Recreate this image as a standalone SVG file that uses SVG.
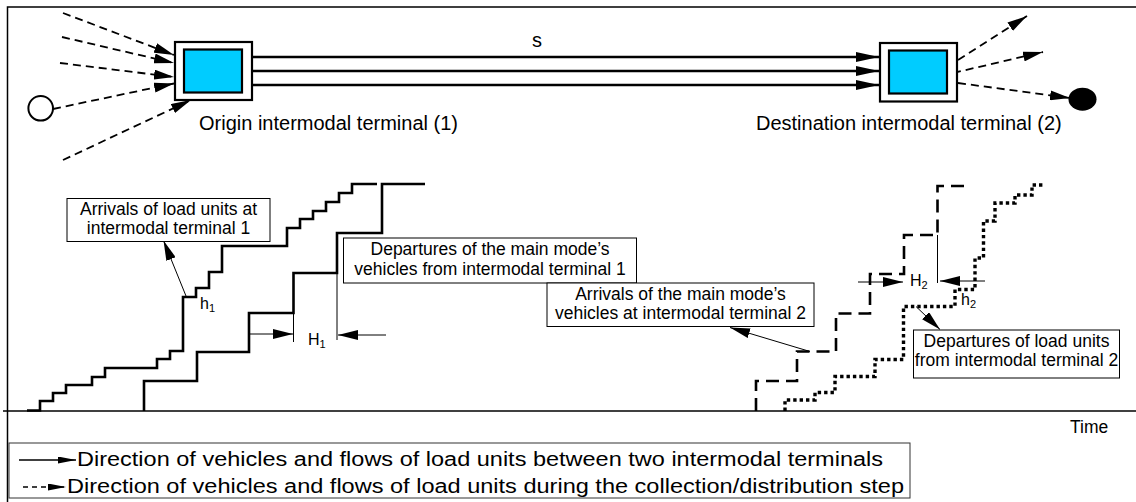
<svg xmlns="http://www.w3.org/2000/svg" width="1136" height="502" viewBox="0 0 1136 502">
  <style>
    .t { font-family: "Liberation Sans", Arial, Helvetica, sans-serif; fill: #000; }
    .big { font-size: 20px; }
    .lab { font-size: 17.5px; }
    .mid { text-anchor: middle; }
    .frame { stroke: #000; stroke-width: 1.5; fill: none; }
    .thick { stroke: #000; stroke-width: 2.6; fill: none; }
    .thin { stroke: #000; stroke-width: 1; fill: none; }
    .dash { stroke: #000; stroke-width: 1.8; fill: none; stroke-dasharray: 8 5; }
    .stairdash { stroke: #000; stroke-width: 2.6; fill: none; stroke-dasharray: 13 7; }
    .stairdot { stroke: #000; stroke-width: 3.4; fill: none; stroke-dasharray: 3.4 3; }
    .box { fill: #fff; stroke: #000; stroke-width: 1; }
    .outer { fill: #fff; stroke: #000; stroke-width: 2.2; }
    .inner { fill: #00CCFF; stroke: #000; stroke-width: 2.2; }
  </style>
  <defs>
    <marker id="ah" markerUnits="userSpaceOnUse" markerWidth="20" markerHeight="10" refX="20" refY="5" orient="auto">
      <path d="M0,0 L20,5 L0,10 Z" fill="#000"/>
    </marker>
    <marker id="ahs" markerUnits="userSpaceOnUse" markerWidth="23" markerHeight="10" refX="23" refY="5" orient="auto">
      <path d="M0,0 L23,5 L0,10 Z" fill="#000"/>
    </marker>
    <marker id="ahc" markerUnits="userSpaceOnUse" markerWidth="20" markerHeight="10" refX="20" refY="5" orient="auto">
      <path d="M0,0 L20,5 L0,10 Z" fill="#000"/>
    </marker>
    <marker id="ahl" markerUnits="userSpaceOnUse" markerWidth="18" markerHeight="7" refX="18" refY="3.5" orient="auto">
      <path d="M0,0 L18,3.5 L0,7 Z" fill="#000"/>
    </marker>
  </defs>

  <rect x="0" y="0" width="1136" height="502" fill="#fff"/>

  <!-- frame and time axis -->
  <g id="frame">
    <path class="frame" d="M7.5,502 V7 H1136"/>
    <path class="frame" d="M3,411 H1136"/>
    <text class="t lab" x="1070" y="433">Time</text>
  </g>

  <!-- connectors -->
  <g id="connectors">
    <!-- collection (dashed) towards origin terminal -->
    <line class="dash" x1="63" y1="13" x2="174" y2="55" marker-end="url(#ah)"/>
    <line class="dash" x1="62" y1="37" x2="174" y2="63" marker-end="url(#ah)"/>
    <line class="dash" x1="60" y1="63" x2="174" y2="77" marker-end="url(#ah)"/>
    <line class="dash" x1="53" y1="109" x2="174" y2="83.5" marker-end="url(#ah)"/>
    <line class="dash" x1="63" y1="160" x2="191" y2="100" marker-end="url(#ah)"/>
    <!-- main mode (solid) -->
    <line class="thick" x1="252" y1="57" x2="879" y2="57" marker-end="url(#ahs)"/>
    <line class="thick" x1="252" y1="71" x2="879" y2="71" marker-end="url(#ahs)"/>
    <line class="thick" x1="252" y1="85" x2="879" y2="85" marker-end="url(#ahs)"/>
    <!-- distribution (dashed) from destination terminal -->
    <line class="dash" x1="958" y1="60" x2="1027" y2="16" marker-end="url(#ah)"/>
    <line class="dash" x1="953" y1="73" x2="1043" y2="52" marker-end="url(#ah)"/>
    <line class="dash" x1="958" y1="83" x2="1070" y2="98" marker-end="url(#ah)"/>

    <!-- callout arrows -->
    <line class="thin" x1="186" y1="296" x2="163.5" y2="240.5" marker-end="url(#ahc)"/>
    <line class="thin" x1="810" y1="351.5" x2="730" y2="327.5" marker-end="url(#ahc)"/>
    <line class="thin" x1="916" y1="306.5" x2="940" y2="329.5" marker-end="url(#ahc)"/>

    <!-- H1 dimension -->
    <line class="thin" x1="293.5" y1="313" x2="293.5" y2="342"/>
    <line class="thin" x1="337" y1="273" x2="337" y2="340"/>
    <line class="thin" x1="250" y1="334" x2="293" y2="334" marker-end="url(#ahc)"/>
    <line class="thin" x1="386" y1="335" x2="338" y2="335" marker-end="url(#ahc)"/>

    <!-- H2 dimension -->
    <line class="thin" x1="937.5" y1="235" x2="937.5" y2="283"/>
    <line class="thin" x1="858" y1="282" x2="903" y2="282" marker-end="url(#ahc)"/>
    <line class="thin" x1="985" y1="281" x2="940" y2="281" marker-end="url(#ahc)"/>
  </g>

  <!-- nodes -->
  <g id="source-circle">
    <circle cx="40.7" cy="108.3" r="12.3" fill="#fff" stroke="#000" stroke-width="2"/>
  </g>
  <g id="sink-dot">
    <ellipse cx="1082.5" cy="99.2" rx="14" ry="11.5" fill="#000"/>
  </g>
  <g id="origin-terminal">
    <rect class="outer" x="175" y="42" width="77" height="58"/>
    <rect class="inner" x="184" y="49.5" width="58" height="43"/>
    <text class="t big" x="199" y="130">Origin intermodal terminal (1)</text>
  </g>
  <g id="destination-terminal">
    <rect class="outer" x="880" y="43" width="77" height="58.5"/>
    <rect class="inner" x="889" y="50.5" width="58" height="43"/>
    <text class="t big" x="756" y="129.5">Destination intermodal terminal (2)</text>
  </g>
  <g id="label-s">
    <text class="t big mid" x="537" y="47">s</text>
  </g>

  <!-- cumulative curves -->
  <g id="arrivals-terminal-1">
    <path class="thick" d="M27,410.5 H40 V401 H53 V393 H66 V385 H92 V377 H105 V368 H157 V359 H170 V351 H183 V297 H196 V288 H209 V272 H222 V246 H287 V228 H300 V219 H313 V211 H326 V202 H339 V193 H352 V184 H377"/>
    <text class="t" x="200" y="309" style="font-size:16px">h<tspan dy="3" style="font-size:11px">1</tspan></text>
  </g>
  <g id="departures-terminal-1">
    <path class="thick" d="M144,411 V381 H197 V352 H249 V313 H293.5 V273 H337 V233 H382 V184 H425"/>
    <text class="t" x="308" y="345" style="font-size:16px">H<tspan dy="3" style="font-size:11px">1</tspan></text>
  </g>
  <g id="arrivals-terminal-2">
    <path class="stairdash" d="M756,411 V381 H797 V351.5 H836 V313.5 H870 V274 H904 V235 H937.5 V186 H964"/>
    <text class="t" x="910" y="286" style="font-size:16px">H<tspan dy="3" style="font-size:11px">2</tspan></text>
  </g>
  <g id="departures-terminal-2">
    <path class="stairdot" d="M785,411 V400 H815 V392.5 H835 V376.5 H875 V359.5 H903.5 V306.5 H955 V289.5 H975 V258 H983.5 V221 H995 V203 H1015 V195 H1032 V185 H1044"/>
    <text class="t" x="961" y="305" style="font-size:16px">h<tspan dy="3" style="font-size:11px">2</tspan></text>
  </g>

  <!-- callout boxes -->
  <g id="callout-arrivals-1">
    <rect class="box" x="67" y="198.5" width="203" height="43"/>
    <text class="t lab mid" x="168.5" y="214.5">Arrivals of load units at</text>
    <text class="t lab mid" x="168.5" y="233.5">intermodal terminal 1</text>
  </g>
  <g id="callout-departures-1">
    <rect class="box" x="343.5" y="238" width="293" height="45"/>
    <text class="t lab mid" x="490" y="255">Departures of the main mode’s</text>
    <text class="t lab mid" x="490" y="274.5">vehicles from intermodal terminal 1</text>
  </g>
  <g id="callout-arrivals-2">
    <rect class="box" x="547" y="283" width="267" height="43.5"/>
    <text class="t lab mid" x="680.5" y="299.5">Arrivals of the main mode’s</text>
    <text class="t lab mid" x="680.5" y="319">vehicles at intermodal terminal 2</text>
  </g>
  <g id="callout-departures-2">
    <rect class="box" x="913.5" y="330" width="206" height="48"/>
    <text class="t lab mid" x="1016.5" y="347">Departures of load units</text>
    <text class="t lab mid" x="1016.5" y="366">from intermodal terminal 2</text>
  </g>

  <!-- legend -->
  <g id="legend">
    <rect x="9" y="443" width="901" height="55" fill="#fff" stroke="#333" stroke-width="1"/>
    <line x1="19" y1="460" x2="76" y2="460" stroke="#000" stroke-width="1.5" marker-end="url(#ahl)"/>
    <text class="t" x="77" y="466" style="font-size:20px" textLength="806" lengthAdjust="spacingAndGlyphs">Direction of vehicles and flows of load units between two intermodal terminals</text>
    <line x1="23" y1="487" x2="66" y2="487" stroke="#000" stroke-width="1.5" stroke-dasharray="5 4" marker-end="url(#ahl)"/>
    <text class="t" x="67" y="493" style="font-size:20px" textLength="837" lengthAdjust="spacingAndGlyphs">Direction of vehicles and flows of load units during the collection/distribution step</text>
  </g>
</svg>
